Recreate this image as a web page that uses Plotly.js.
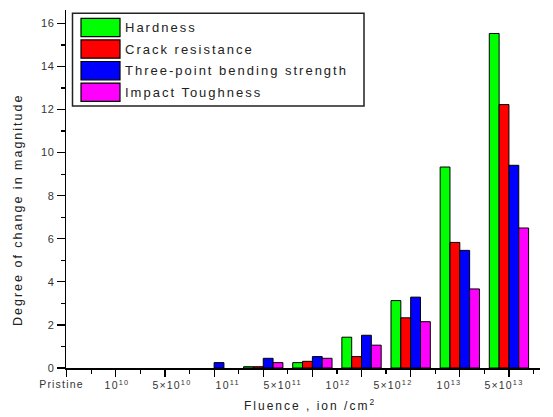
<!DOCTYPE html>
<html>
<head>
<meta charset="utf-8">
<script src="https://cdn.plot.ly/plotly-3.0.1.min.js"></script>
<style>
  html, body { margin: 0; padding: 0; background: #fff; }
  #chart { width: 553px; height: 417px; }
  .annotation-text { letter-spacing: 2px; }
  .ytick text { letter-spacing: 0.5px; }
</style>
</head>
<body>
<div id="chart"></div>
<script>
// ---- data ----
const groupIndex = [0, 1, 2, 3, 4, 5, 6, 7, 8, 9];
const tickLabels = ["Pristine", "10<sup>10</sup>", "5×10<sup>10</sup>", "10<sup>11</sup>", "5×10<sup>11</sup>",
                    "10<sup>12</sup>", "5×10<sup>12</sup>", "10<sup>13</sup>", "5×10<sup>13</sup>"];
const seriesNames = ["Hardness", "Crack resistance", "Three-point bending strength", "Impact Toughness"];
const hardness  = [null, null, null, null, 0.06, 0.25, 1.43, 3.13, 9.33, 15.53];
const crack     = [null, null, null, null, 0.06, 0.31, 0.53, 2.33, 5.83, 12.23];
const bending   = [null, null, null, 0.25, 0.45, 0.53, 1.52, 3.29, 5.46, 9.41];
const impact    = [null, null, null, null, 0.25, 0.45, 1.06, 2.15, 3.67, 6.50];

// ---- styles / layout constants ----
const colors = ["#00FF00", "#FF0000", "#0000FF", "#FF00FF"];
const labelPos = [-0.1, 1.02, 2.15, 3.27, 4.4, 5.53, 6.65, 7.78, 8.9];
const W = 553, H = 417;
const M = {l: 66, r: 13, t: 10, b: 49};
const PW = W - M.l - M.r, PH = H - M.t - M.b;
const px = x => (x - M.l) / PW;
const py = y => (H - M.b - y) / PH;
const xRange = [-0.014, 9.632];
const xToPaper = v => (v - xRange[0]) / (xRange[1] - xRange[0]);
const FONT = 'Liberation Sans, Arial, sans-serif';

const values = [hardness, crack, bending, impact];
const traces = values.map((v, i) => ({
  type: 'bar',
  x: groupIndex,
  y: v,
  name: seriesNames[i],
  marker: {color: colors[i], line: {color: '#000', width: 1}},
  hoverinfo: 'x+y+name'
}));

const minorX = groupIndex.map(g => g + 0.5);

// custom legend
const shapes = [{
  type: 'rect', xref: 'paper', yref: 'paper',
  x0: px(72.5), x1: px(364), y0: py(106), y1: py(13.3),
  line: {color: '#222', width: 1.5}, fillcolor: 'rgba(255,255,255,1)'
}];
const annotations = [];
seriesNames.forEach((n, i) => {
  const top = 18.3 + 21.6 * i;
  shapes.push({type: 'rect', xref: 'paper', yref: 'paper',
    x0: px(81), x1: px(120), y0: py(top + 18.3), y1: py(top),
    line: {color: '#000', width: 1.2}, fillcolor: colors[i]});
  annotations.push({xref: 'paper', yref: 'paper', x: px(123), y: py(top + 9.5),
    xanchor: 'left', yanchor: 'middle', showarrow: false, text: n,
    font: {family: FONT, size: 13, color: '#222'}});
});

// category labels (offset from the ticks, as in the original)
const firstTickAnn = annotations.length;
tickLabels.forEach((t, i) => {
  annotations.push({xref: 'paper', yref: 'paper', x: xToPaper(labelPos[i]), y: py(384),
    xanchor: 'center', yanchor: 'middle', showarrow: false, text: t,
    font: {family: FONT, size: 10.5, color: '#333'}});
});
// tighter letter spacing for the category labels, set before drawing
const css = tickLabels.map((t, i) => `.annotation[data-index="${firstTickAnn + i}"] .annotation-text`).join(',')
  + '{letter-spacing:1.2px;}';
const st = document.createElement('style'); st.textContent = css; document.head.appendChild(st);

// axis titles
annotations.push({xref: 'paper', yref: 'paper', x: px(310), y: py(405),
  xanchor: 'center', yanchor: 'middle', showarrow: false,
  text: 'Fluence , ion /cm<sup>2</sup>', font: {family: FONT, size: 12, color: '#222'}});
annotations.push({xref: 'paper', yref: 'paper', x: px(18), y: py(210), textangle: -90,
  xanchor: 'center', yanchor: 'middle', showarrow: false,
  text: 'Degree of change in magnitude', font: {family: FONT, size: 12.5, color: '#222'}});

const layout = {
  width: W, height: H,
  margin: M,
  paper_bgcolor: '#fff', plot_bgcolor: '#fff',
  font: {family: FONT, color: '#222'},
  barmode: 'group', bargap: 0.2, bargroupgap: 0,
  showlegend: false,
  xaxis: {
    range: xRange, showgrid: false, zeroline: false,
    showline: true, linecolor: '#000', linewidth: 1.5,
    tickmode: 'array', tickvals: groupIndex, ticks: 'outside', ticklen: 7, tickwidth: 1.2, tickcolor: '#000',
    showticklabels: false,
    minor: {tickmode: 'array', tickvals: minorX, ticks: 'outside', ticklen: 4, tickwidth: 1.2, tickcolor: '#000'}
  },
  yaxis: {
    range: [0, 16.62], showgrid: false, zeroline: false,
    showline: true, linecolor: '#000', linewidth: 1.5,
    tickmode: 'linear', tick0: 0, dtick: 2, ticks: 'outside', ticklen: 8, tickwidth: 1.2, tickcolor: '#000',
    minor: {dtick: 1, ticks: 'outside', ticklen: 4, tickwidth: 1.2, tickcolor: '#000'},
    tickfont: {size: 11, color: '#333'}
  },
  shapes: shapes,
  annotations: annotations
};

Plotly.newPlot('chart', traces, layout, {displayModeBar: false, staticPlot: true});
</script>
</body>
</html>
